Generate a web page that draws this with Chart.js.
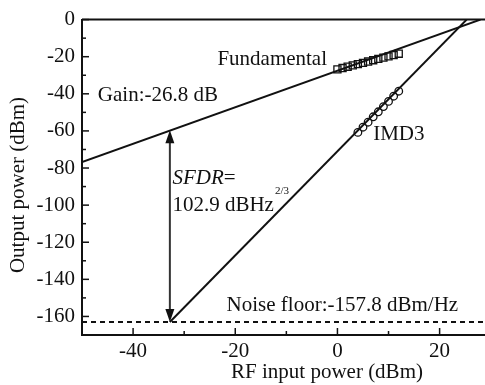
<!DOCTYPE html>
<html>
<head>
<meta charset="utf-8">
<script src="https://cdn.jsdelivr.net/npm/chart.js@4"></script>
<style>
  html, body { margin: 0; background: #fff; overflow: hidden; }
  canvas { display: block; }
</style>
</head>
<body>
<canvas id="sfdrChart" width="497" height="385"></canvas>
<script>
const fundX = [0, 1, 2, 3, 4, 5, 6, 7, 8, 9, 10, 11, 12];
const fundY = [-26.8, -26.1, -25.4, -24.7, -24.0, -23.3, -22.6, -21.9, -21.2, -20.5, -19.8, -19.1, -18.4];
const imdX = [4, 5, 6, 7, 8, 9, 10, 11, 12];
const imdY = [-60.8, -58.0, -55.3, -52.4, -49.7, -46.9, -44.1, -41.3, -38.6];

// fitted lines
const fundFitX = [-50, 28.0];
const fundFitY = [-76.8, 0];
const imdFitX = [-32.8, 25.3];
const imdFitY = [-163, 0];
const noiseX = [-50, 30];
const noiseY = [-163, -163];

// SFDR arrow
const sfdrX = -32.8;
const sfdrTop = -59.6;
const sfdrBottom = -163;

// axis ticks
const xTicks = [-50, -40, -30, -20, -10, 0, 10, 20, 30];
const yTicks = [-160, -150, -140, -130, -120, -110, -100, -90, -80, -70, -60, -50, -40, -30, -20, -10, 0];

const FONT = '"Liberation Serif", "Times New Roman", serif';

function pts(xs, ys) {
    return xs.map((x, i) => ({ x: x, y: ys[i] }));
}

const extras = {
    id: 'extras',
    afterDatasetsDraw(chart) {
        const c = chart.ctx;
        const xs = chart.scales.x, ys = chart.scales.y;
        const px = v => xs.getPixelForValue(v);
        const py = v => ys.getPixelForValue(v);

        // SFDR double arrow
        const ax = px(sfdrX), a1 = py(sfdrTop), a2 = py(sfdrBottom);
        c.save();
        c.strokeStyle = '#333';
        c.fillStyle = '#111';
        c.lineWidth = 2;
        c.beginPath();
        c.moveTo(ax, a1 + 10);
        c.lineTo(ax, a2 - 10);
        c.stroke();
        c.beginPath();
        c.moveTo(ax, a1); c.lineTo(ax - 4.5, a1 + 13); c.lineTo(ax + 4.5, a1 + 13); c.closePath();
        c.fill();
        c.beginPath();
        c.moveTo(ax, a2); c.lineTo(ax - 4.5, a2 - 13); c.lineTo(ax + 4.5, a2 - 13); c.closePath();
        c.fill();

        // annotations
        c.fillStyle = '#111';
        c.textBaseline = 'alphabetic';
        c.textAlign = 'left';
        c.font = '21px ' + FONT;
        c.fillText('Fundamental', px(-23.5), py(-24.7));
        c.fillText('Gain:-26.8 dB', px(-46.9), py(-43.9));
        c.fillText('IMD3', px(7.0), py(-65.1));
        c.fillText('Noise floor:-157.8 dBm/Hz', px(-21.7), py(-156.8));

        c.font = 'italic 21px ' + FONT;
        c.fillText('SFDR', px(-32.3), py(-88.7));
        const w1 = c.measureText('SFDR').width;
        c.font = '21px ' + FONT;
        c.fillText('=', px(-32.3) + w1, py(-88.7));

        c.fillText('102.9 dBHz', px(-32.3), py(-103.1));
        const w2 = c.measureText('102.9 dBHz').width;
        c.font = '11px ' + FONT;
        c.fillText('2/3', px(-32.3) + w2 + 1, py(-94.1));
        c.restore();
    },
    afterDraw(chart) {
        const c = chart.ctx;
        const a = chart.chartArea;
        const xs = chart.scales.x, ys = chart.scales.y;
        c.save();
        c.strokeStyle = '#111';
        c.lineWidth = 2;
        // top frame line
        c.beginPath();
        c.moveTo(a.left, a.top);
        c.lineTo(a.right, a.top);
        c.stroke();
        // inward tick marks
        c.lineWidth = 1.5;
        xTicks.forEach(v => {
            const x = xs.getPixelForValue(v);
            const len = v % 20 === 0 ? 7 : 4;
            c.beginPath();
            c.moveTo(x, a.bottom);
            c.lineTo(x, a.bottom - len);
            c.stroke();
        });
        yTicks.forEach(v => {
            const y = ys.getPixelForValue(v);
            const len = v % 20 === 0 ? 7 : 4;
            c.beginPath();
            c.moveTo(a.left, y);
            c.lineTo(a.left + len, y);
            c.stroke();
        });
        // axis titles
        c.fillStyle = '#111';
        c.font = '21px ' + FONT;
        c.textAlign = 'center';
        c.textBaseline = 'middle';
        c.fillText('RF input power (dBm)', 327, 372);
        c.translate(18, 185);
        c.rotate(-Math.PI / 2);
        c.fillText('Output power (dBm)', 0, 0);
        c.restore();
    }
};

new Chart(document.getElementById('sfdrChart'), {
    type: 'scatter',
    data: {
        datasets: [
            {
                label: 'Fundamental fit',
                data: pts(fundFitX, fundFitY),
                showLine: true,
                borderColor: '#111',
                borderWidth: 2,
                pointRadius: 0
            },
            {
                label: 'IMD3 fit',
                data: pts(imdFitX, imdFitY),
                showLine: true,
                borderColor: '#111',
                borderWidth: 2,
                pointRadius: 0
            },
            {
                label: 'Noise floor',
                data: pts(noiseX, noiseY),
                showLine: true,
                borderColor: '#111',
                borderWidth: 2,
                borderDash: [5, 4],
                pointRadius: 0
            },
            {
                label: 'Fundamental',
                data: pts(fundX, fundY),
                pointStyle: 'rect',
                pointRadius: 5,
                pointBorderWidth: 1.3,
                pointBorderColor: '#111',
                pointBackgroundColor: 'rgba(255,255,255,0)'
            },
            {
                label: 'IMD3',
                data: pts(imdX, imdY),
                pointStyle: 'circle',
                pointRadius: 3.8,
                pointBorderWidth: 1.3,
                pointBorderColor: '#111',
                pointBackgroundColor: 'rgba(255,255,255,0)'
            }
        ]
    },
    options: {
        responsive: false,
        animation: false,
        layout: { padding: { top: 18, left: 0, right: 0, bottom: 0 } },
        plugins: {
            legend: { display: false },
            tooltip: { enabled: false }
        },
        scales: {
            x: {
                type: 'linear',
                min: -50,
                max: 30,
                afterBuildTicks: s => { s.ticks = xTicks.map(v => ({ value: v })); },
                afterFit: s => { s.height = 50; },
                grid: { display: false, drawTicks: false },
                border: { display: true, color: '#111', width: 2 },
                ticks: {
                    color: '#111',
                    padding: 4,
                    maxRotation: 0,
                    autoSkip: false,
                    font: { family: FONT, size: 21 },
                    callback: v => (v % 20 === 0 ? String(v) : '')
                }
            },
            y: {
                type: 'linear',
                min: -170,
                max: 0,
                afterBuildTicks: s => { s.ticks = yTicks.map(v => ({ value: v })); },
                afterFit: s => { s.width = 82; },
                grid: { display: false, drawTicks: false },
                border: { display: true, color: '#111', width: 2 },
                ticks: {
                    color: '#111',
                    padding: 7,
                    autoSkip: false,
                    font: { family: FONT, size: 21 },
                    callback: v => (v % 20 === 0 ? String(v) : '')
                }
            }
        }
    },
    plugins: [extras]
});
</script>
</body>
</html>
